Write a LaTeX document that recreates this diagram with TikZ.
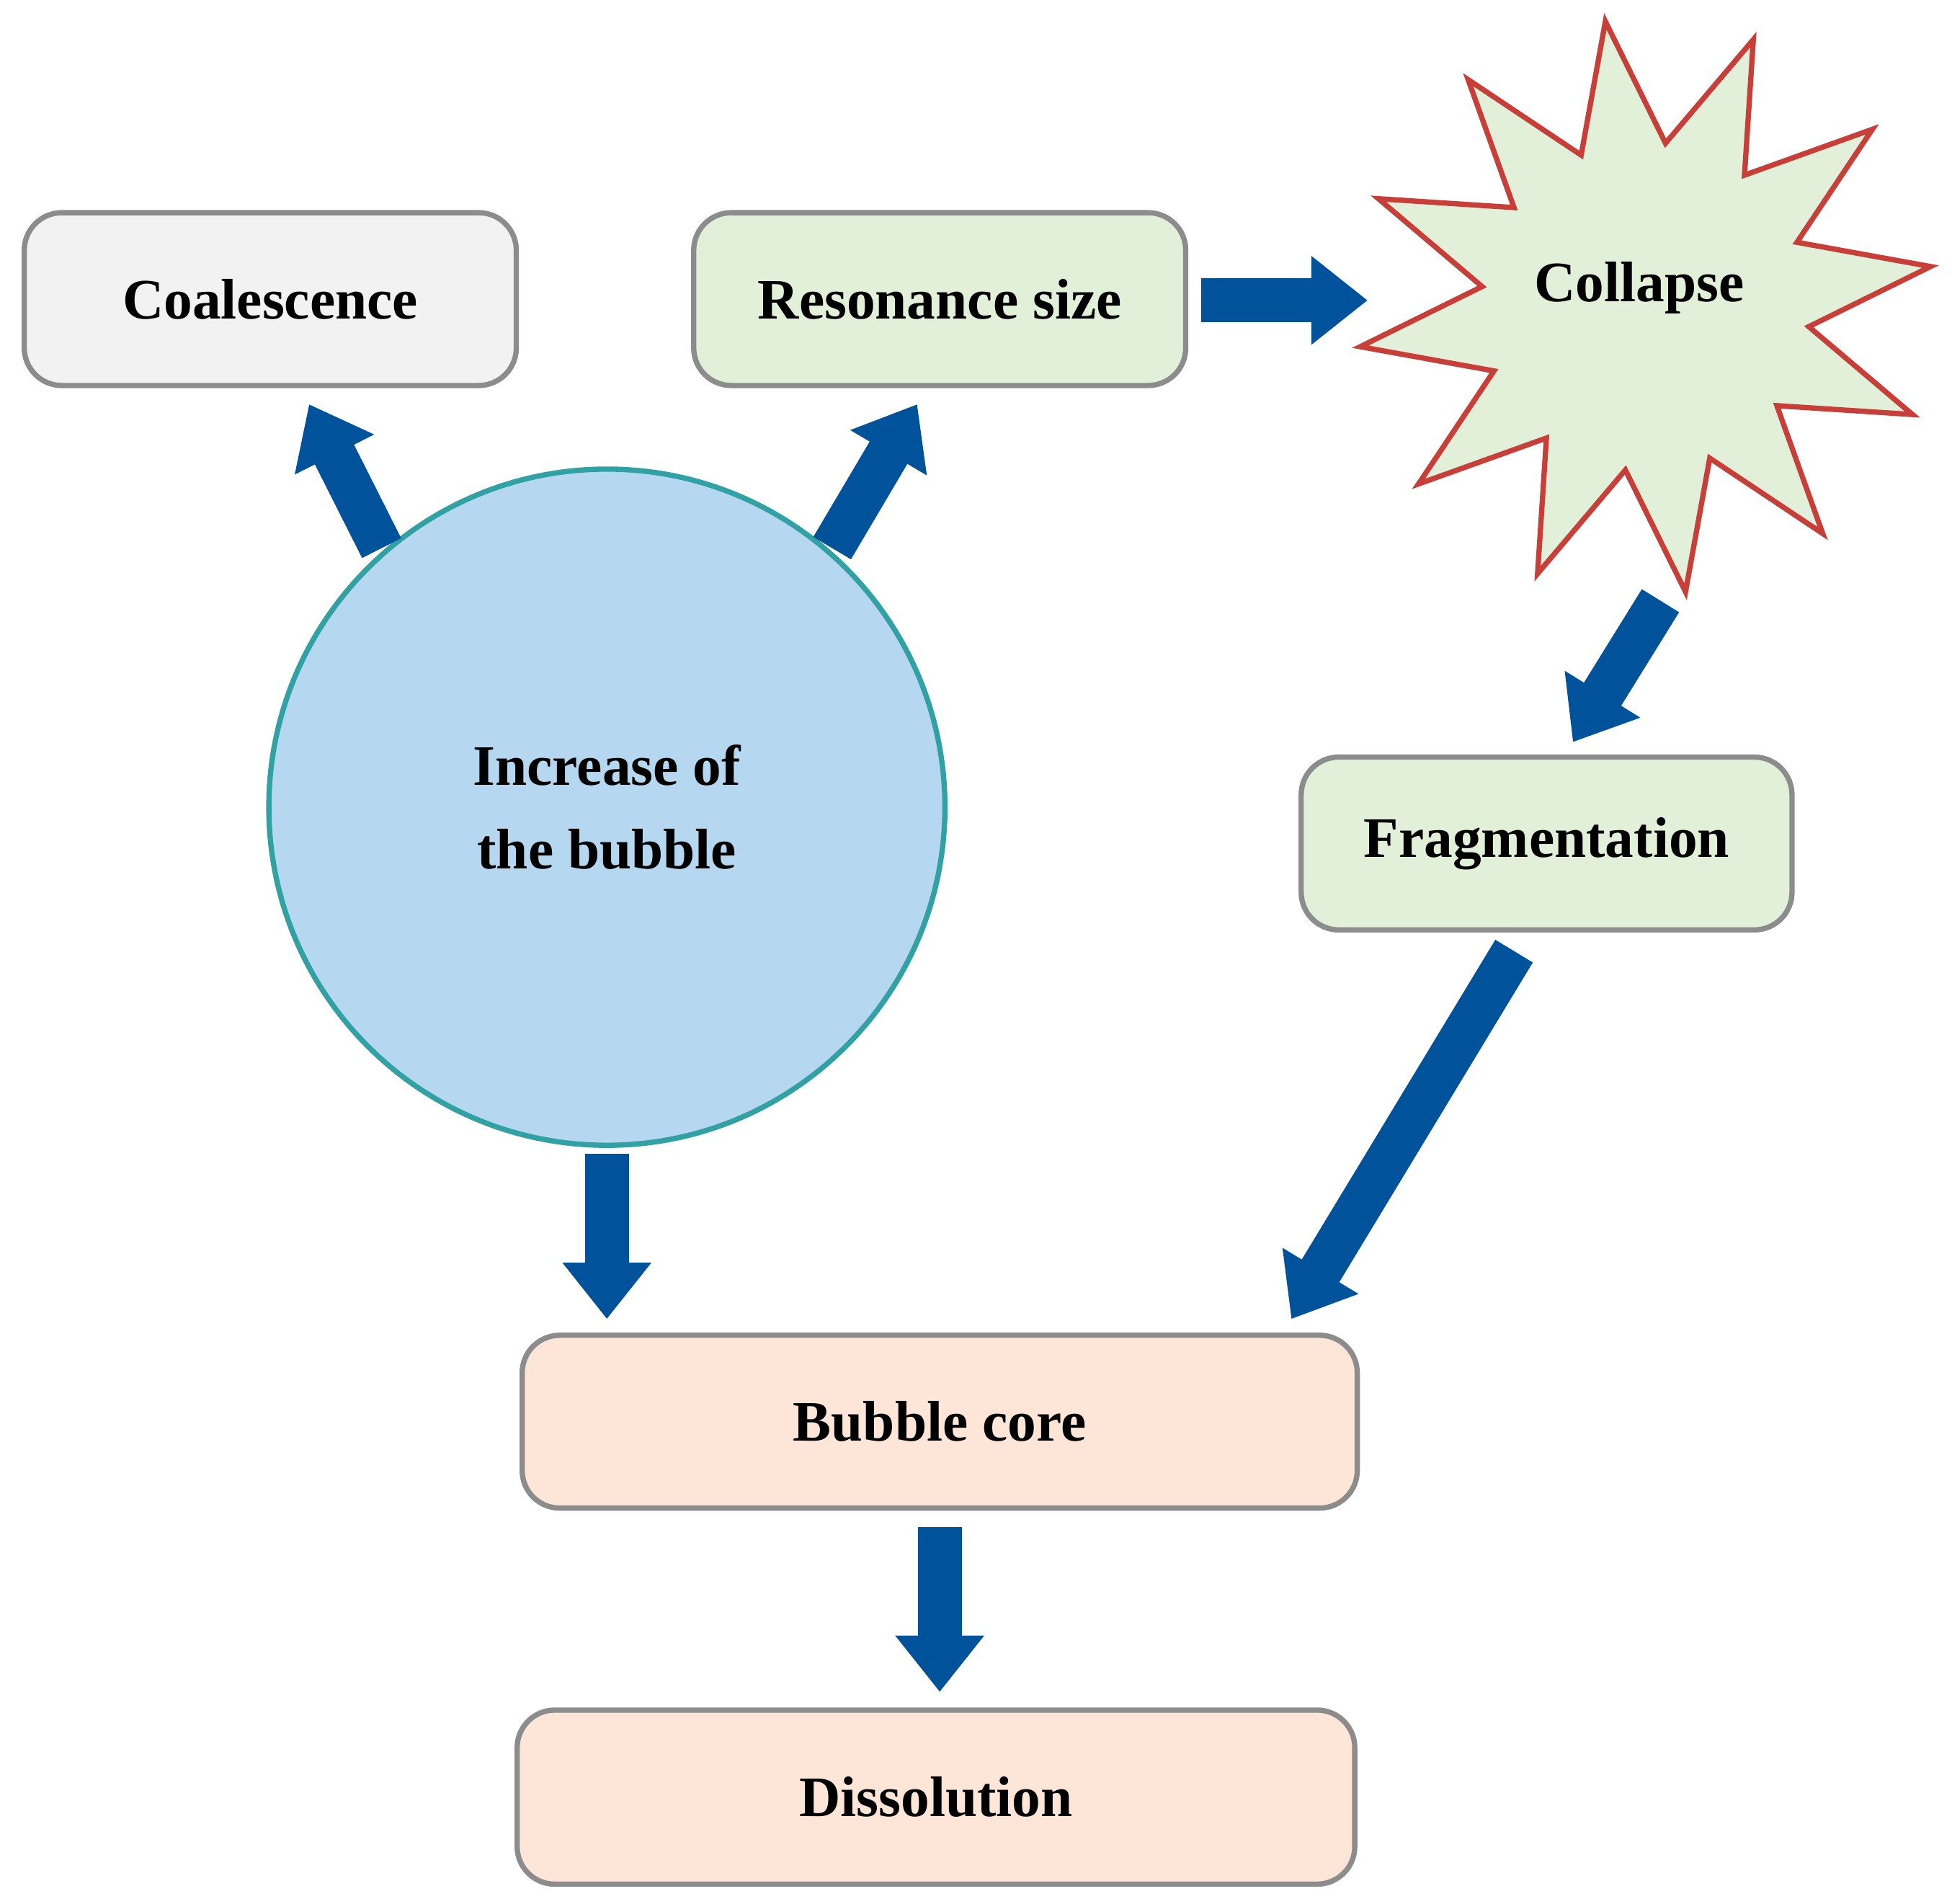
\documentclass[tikz,border=0pt]{standalone}
\usepackage{fontspec}
\setmainfont{Liberation Serif}
\usetikzlibrary{arrows.meta,shapes.geometric}
\definecolor{arr}{HTML}{00529B}
\definecolor{gbox}{HTML}{F2F2F2}
\definecolor{green}{HTML}{E2F0DA}
\definecolor{peach}{HTML}{FDE6D8}
\definecolor{blue}{HTML}{B5D8F0}
\begin{document}
\begin{tikzpicture}[x=0.01cm,y=-0.01cm,
 box/.style={draw=gray!90,line width=1.2pt,rounded corners=0.3cm,inner sep=0pt,font=\bfseries\fontsize{13}{15}\selectfont},
 ar/.style={draw=arr,line width=0.35cm,-{Triangle[length=0.45cm,width=0.68cm]}}]
\useasboundingbox (0,0) rectangle (1560,1521);
\node[box,fill=gbox,minimum width=3.93cm,minimum height=1.38cm] (coal) at (216,239) {Coalescence};
\node[box,fill=green,minimum width=3.93cm,minimum height=1.38cm] (res) at (751,239) {Resonance size};
\node[star,star points=12,star point ratio=1.75,minimum size=4.6cm,fill=green,draw=green!60!black!40!green,draw={rgb,255:red,169;green,209;blue,142},line width=1.2pt,inner sep=0pt,rotate=8] (col) at (1315,245) {};
\node[font=\bfseries\fontsize{13}{15}\selectfont] (colt) at (1310,230) {Collapse};
\node[circle,fill=blue,draw={rgb,255:red,189;green,222;blue,244},line width=1.2pt,minimum size=5.4cm,align=center,font=\bfseries\fontsize{13}{19}\selectfont] (inc) at (485,645) {Increase of\\the bubble};
\node[box,fill=green,minimum width=3.92cm,minimum height=1.38cm] (frag) at (1236,674) {Fragmentation};
\node[box,fill=peach,minimum width=6.67cm,minimum height=1.38cm] (core) at (751,1136) {Bubble core};
\node[box,fill=peach,minimum width=6.69cm,minimum height=1.39cm] (dis) at (748,1436) {Dissolution};
\coordinate (a1s) at (305,438); \coordinate (a1e) at (247,323);
\coordinate (a2s) at (665,438); \coordinate (a2e) at (733,323);
\coordinate (a3s) at (960,240); \coordinate (a3e) at (1093,240);
\coordinate (a4s) at (1327,480); \coordinate (a4e) at (1257,593);
\coordinate (a5s) at (1210,760); \coordinate (a5e) at (1032,1054);
\coordinate (a6s) at (485,922); \coordinate (a6e) at (485,1054);
\coordinate (a7s) at (751,1220); \coordinate (a7e) at (751,1352);
\foreach \i in {1,...,7} \draw[ar] (a\i s) -- (a\i e);
\end{tikzpicture}
\end{document}
